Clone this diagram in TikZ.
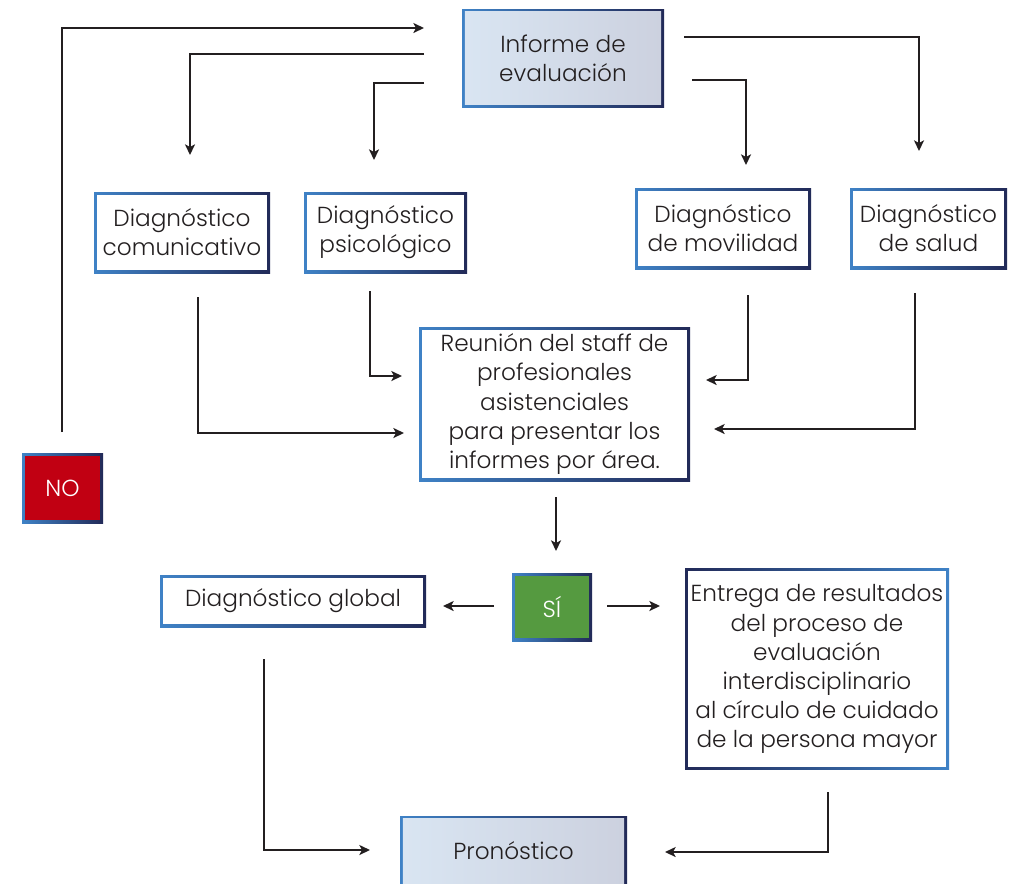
\documentclass[tikz,border=0pt]{standalone}
\usepackage{fontspec}
\setmainfont{Poppins Light}
\usetikzlibrary{arrows.meta}
\definecolor{ink}{HTML}{231F20}
\definecolor{frameA}{HTML}{3F82C6}
\definecolor{frameB}{HTML}{1C5A9F}
\definecolor{frameC}{HTML}{222A58}
\definecolor{paleA}{HTML}{D9E5F2}
\definecolor{paleB}{HTML}{CCD1DF}
\definecolor{noRed}{HTML}{C10012}
\definecolor{siGreen}{HTML}{559A40}
\tikzset{
  sz/.style 2 args={minimum width=#1*0.75pt, minimum height=#2*0.75pt},
  txt/.style={rectangle, inner sep=1pt, align=center, text=ink,
    font=\fontsize{17.4}{21.8}\selectfont},
  % white (or flat coloured) box with a blue-to-navy gradient frame
  gbox/.style={txt,
    path picture={
      \shade[left color=frameA, middle color=frameB, right color=frameC]
        (path picture bounding box.south west) rectangle (path picture bounding box.north east);
      \fill[#1] ([shift={(2.2pt,2.2pt)}]path picture bounding box.south west)
        rectangle ([shift={(-2.2pt,-2.2pt)}]path picture bounding box.north east);
    }},
  gbox/.default=white,
  % same frame, mirrored gradient
  rbox/.style={txt,
    path picture={
      \shade[left color=frameC, middle color=frameB, right color=frameA]
        (path picture bounding box.south west) rectangle (path picture bounding box.north east);
      \fill[white] ([shift={(2.2pt,2.2pt)}]path picture bounding box.south west)
        rectangle ([shift={(-2.2pt,-2.2pt)}]path picture bounding box.north east);
    }},
  % pale shaded box with gradient frame
  pbox/.style={txt,
    path picture={
      \shade[left color=frameA, middle color=frameB, right color=frameC]
        (path picture bounding box.south west) rectangle (path picture bounding box.north east);
      \shade[left color=paleA, right color=paleB] ([shift={(2.2pt,2.2pt)}]path picture bounding box.south west)
        rectangle ([shift={(-2.2pt,-2.2pt)}]path picture bounding box.north east);
    }},
  arr/.style={draw=ink, line width=1.3pt, -{Stealth[length=8pt,width=7.5pt,inset=2pt]}},
}
\begin{document}
\begin{tikzpicture}[x=0.75pt,y=-0.75pt]
\useasboundingbox (0,0) rectangle (1020,883);

% boxes
\node[pbox, sz={202}{98}] (inf) at (563,58) {Informe de\\evaluación};
\node[gbox, sz={176}{81}] (com) at (182,232.5) {Diagnóstico\\comunicativo};
\node[gbox, sz={163}{81}] (psi) at (385.5,232.5) {Diagnóstico\\psicológico};
\node[gbox, sz={176}{81}] (mov) at (723,228.5) {Diagnóstico\\de movilidad};
\node[gbox, sz={157}{81}] (sal) at (928.5,228.5) {Diagnóstico\\de salud};
\node[gbox, sz={271}{154}] (reu) at (554.5,404) {Reunión del staff de\\profesionales\\asistenciales\\para presentar los\\informes por área.};
\node[gbox=noRed, sz={81}{70}, text=white] (no) at (62.5,488) {NO};
\node[gbox, sz={266}{52}] (glo) at (293,601) {Diagnóstico global};
\node[gbox=siGreen, sz={80}{68}, text=white] (si) at (552,607) {SÍ};
\node[rbox, sz={264}{201}] (ent) at (817,669) {Entrega de resultados\\del proceso de\\evaluación\\interdisciplinario\\al círculo de cuidado\\de la persona mayor};
\node[pbox, sz={227}{70}] (pro) at (513.5,851) {Pronóstico};

% connector ends
\coordinate (noS) at (62,432);      \coordinate (infIn) at (424,28);
\coordinate (infL1) at (424,54);    \coordinate (comIn) at (190,155);
\coordinate (infL2) at (424,83);    \coordinate (psiIn) at (374,160);
\coordinate (infR1) at (684,37);    \coordinate (salIn) at (919,151);
\coordinate (infR2) at (692,80);    \coordinate (movIn) at (746,165);
\coordinate (comS) at (198,297);    \coordinate (reuL2) at (404,433);
\coordinate (psiS) at (370,291);    \coordinate (reuL1) at (402,376);
\coordinate (movS) at (748,295);    \coordinate (reuR1) at (706,380);
\coordinate (salS) at (915,293);    \coordinate (reuR2) at (714,429);
\coordinate (reuS) at (556,497);    \coordinate (siIn) at (556,551);
\coordinate (siL) at (494,606);     \coordinate (gloIn) at (443,606);
\coordinate (siR) at (607,606);     \coordinate (entIn) at (660,606);
\coordinate (gloS) at (264,659);    \coordinate (proL) at (370,850);
\coordinate (entS) at (828,792);    \coordinate (proR) at (665,852);

% connectors
\draw[arr] (noS) |- (infIn);
\draw[arr] (infL1) -| (comIn);
\draw[arr] (infL2) -| (psiIn);
\draw[arr] (infR1) -| (salIn);
\draw[arr] (infR2) -| (movIn);
\draw[arr] (comS) |- (reuL2);
\draw[arr] (psiS) |- (reuL1);
\draw[arr] (movS) |- (reuR1);
\draw[arr] (salS) |- (reuR2);
\draw[arr] (reuS) -- (siIn);
\draw[arr] (siL) -- (gloIn);
\draw[arr] (siR) -- (entIn);
\draw[arr] (gloS) |- (proL);
\draw[arr] (entS) |- (proR);
\end{tikzpicture}
\end{document}
